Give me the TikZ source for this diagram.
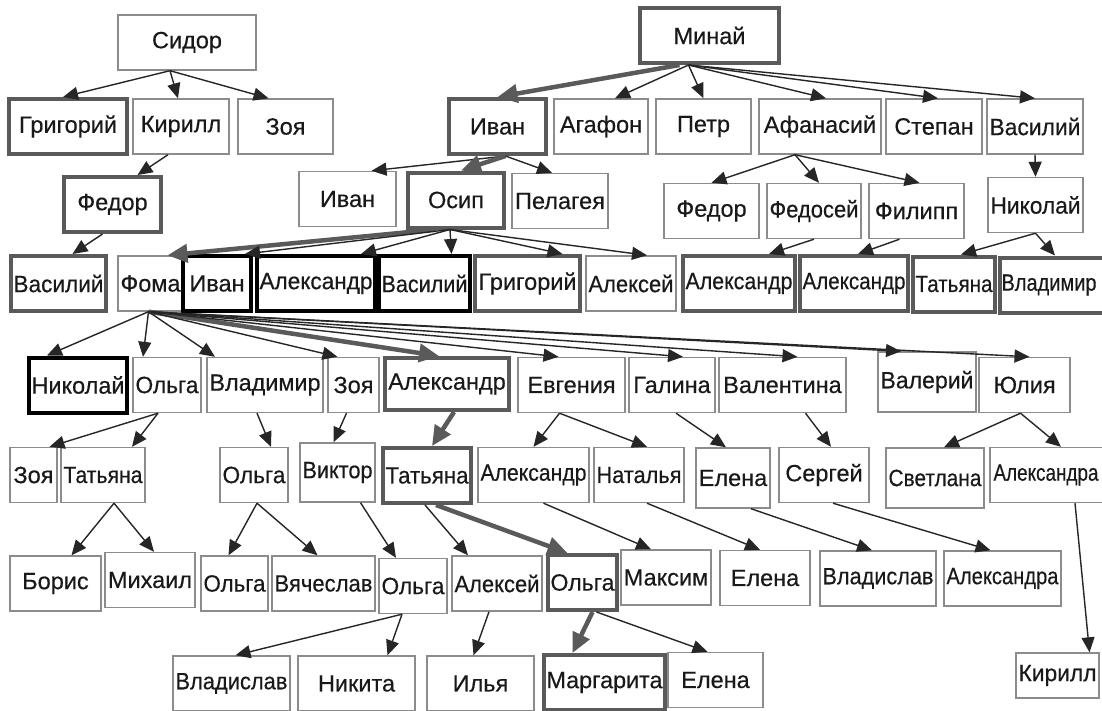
\documentclass[tikz,border=0pt]{standalone}
\usepackage{fontspec}
\setmainfont{Liberation Sans}
\newfontfamily\nmfont[FakeBold=0.4]{Liberation Sans}
\usetikzlibrary{arrows.meta}
\definecolor{boxgray}{HTML}{8C8C8C}
\definecolor{pathgray}{HTML}{5A5A5A}
% squeeze a name into its box, like the original renderer does
\newcommand{\nm}[1]{\resizebox{\ifdim\width>\dimexpr\tw pt-5pt\relax\dimexpr\tw pt-5pt\relax\else\width\fi}{\height}{#1}}

\begin{document}
\begin{tikzpicture}[x=1pt, y=-1pt,
    nd/.style={draw=boxgray, line width=1.4pt, minimum height=55pt, inner sep=0pt,
      font=\nmfont\fontsize{23.5}{28}\selectfont, text=black!90},
    ndg/.style={nd, draw=pathgray, line width=4pt},
    ndk/.style={nd, draw=black, line width=4pt},
    wd/.style={minimum width=#1pt, execute at begin node={\def\tw{#1}}},
    ed/.style={draw=black!85, line width=1.4pt, -{Triangle[length=15pt,width=13pt]}},
    edg/.style={draw=pathgray, line width=4.5pt, -{Triangle[length=20pt,width=18pt]}}]
  \fill[white] (0,0) rectangle (1102,710);
  \useasboundingbox (0,0) rectangle (1102,710);

  % row 1
  \node[nd, wd=138] (sid) at (187,42.5) {\nm{Сидор}};
  \node[ndg, wd=139] (mnj) at (709.5,35.5) {\nm{Минай}};
  % row 2
  \node[ndg, wd=118] (grg) at (68,126.5) {\nm{Григорий}};
  \node[nd, wd=96] (kir) at (181,126.5) {\nm{Кирилл}};
  \node[nd, wd=95] (zoa) at (285.5,126.5) {\nm{Зоя}};
  \node[ndg, wd=97] (iva) at (497.5,126.5) {\nm{Иван}};
  \node[nd, wd=94] (aga) at (601,126.5) {\nm{Агафон}};
  \node[nd, wd=95] (pet) at (703.5,126.5) {\nm{Петр}};
  \node[nd, wd=122] (afa) at (820,126.5) {\nm{Афанасий}};
  \node[nd, wd=96] (ste) at (934,126.5) {\nm{Степан}};
  \node[nd, wd=96] (vas) at (1035,126.5) {\nm{Василий}};
  % row 3
  \node[ndg, wd=97] (fed) at (112.5,204.5) {\nm{Федор}};
  \node[nd, wd=97] (ivb) at (347.5,199) {\nm{Иван}};
  \node[ndg, wd=96] (osi) at (456,200) {\nm{Осип}};
  \node[nd, wd=96] (pel) at (560,201) {\nm{Пелагея}};
  \node[nd, wd=95] (fdr) at (711.5,211) {\nm{Федор}};
  \node[nd, wd=94] (fds) at (814,211) {\nm{Федосей}};
  \node[nd, wd=95] (fil) at (916.5,211) {\nm{Филипп}};
  \node[nd, wd=95] (nik) at (1035.5,205) {\nm{Николай}};
  % row 4
  \node[ndg, wd=95] (vsa) at (58.5,283.5) {\nm{Василий}};
  \node[nd, wd=65] (fom) at (150.5,283.5) {\nm{Фома}};
  \node[ndk, wd=68] (ivc) at (217,283.5) {\nm{Иван}};
  \node[ndk, wd=118] (ala) at (316,283.5) {\nm{Александр}};
  \node[ndk, wd=91] (vsb) at (424.5,283.5) {\nm{Василий}};
  \node[ndg, wd=105] (grb) at (527.5,283.5) {\nm{Григорий}};
  \node[nd, wd=90] (alx) at (631,283.5) {\nm{Алексей}};
  \node[ndg, wd=112] (alb) at (739,283.5) {\nm{Александр}};
  \node[ndg, wd=108] (alc) at (854,283.5) {\nm{Александр}};
  \node[ndg, wd=82] (tat) at (954,284) {\nm{Татьяна}};
  \node[ndg, wd=110] (vla) at (1055,285) {\resizebox{95pt}{\height}{Владимир}\hspace*{12pt}};
  % row 5
  \node[ndk, wd=98] (nkl) at (78,385) {\nm{Николай}};
  \node[nd, wd=68] (olg) at (167,385) {\nm{Ольга}};
  \node[nd, wd=116] (vld) at (265,385) {\nm{Владимир}};
  \node[nd, wd=51] (zob) at (353.5,385) {\nm{Зоя}};
  \node[ndg, wd=124, minimum height=52pt] (ald) at (447,384) {\nm{Александр}};
  \node[nd, wd=107] (evg) at (571.5,385) {\nm{Евгения}};
  \node[nd, wd=86] (gal) at (672,385) {\nm{Галина}};
  \node[nd, wd=127] (val) at (782.5,385) {\nm{Валентина}};
  \node[nd, wd=98, minimum height=60pt] (vlr) at (927,382) {\nm{Валерий}};
  \node[nd, wd=91] (yul) at (1024.5,385) {\nm{Юлия}};
  % row 6
  \node[nd, wd=47] (zoc) at (33.5,475) {\nm{Зоя}};
  \node[nd, wd=84] (tta) at (103,475) {\nm{Татьяна}};
  \node[nd, wd=68] (olb) at (254,475) {\nm{Ольга}};
  \node[nd, wd=75, minimum height=59pt] (vik) at (337.5,472.5) {\nm{Виктор}};
  \node[ndg, wd=88] (ttb) at (427,475.5) {\nm{Татьяна}};
  \node[nd, wd=111] (ale) at (533.5,475) {\nm{Александр}};
  \node[nd, wd=90] (nat) at (639,475) {\nm{Наталья}};
  \node[nd, wd=74, minimum height=60pt] (ela) at (733,478) {\nm{Елена}};
  \node[nd, wd=90] (ser) at (824,475) {\nm{Сергей}};
  \node[nd, wd=98, minimum height=60pt] (sve) at (935,478) {\nm{Светлана}};
  \node[nd, wd=120] (alr) at (1050,475) {\resizebox{105pt}{\height}{Александра}\hspace*{8pt}};
  % row 7
  \node[nd, wd=91] (bor) at (55.5,583.5) {\nm{Борис}};
  \node[nd, wd=90] (mih) at (150,580) {\nm{Михаил}};
  \node[nd, wd=67] (olc) at (234.5,583.5) {\nm{Ольга}};
  \node[nd, wd=103] (vya) at (323.5,583.5) {\nm{Вячеслав}};
  \node[nd, wd=68] (old) at (413,586) {\nm{Ольга}};
  \node[nd, wd=90] (alf) at (497,583.5) {\nm{Алексей}};
  \node[ndg, wd=69] (ole) at (582.5,582.5) {\nm{Ольга}};
  \node[nd, wd=90] (mak) at (666,577.5) {\nm{Максим}};
  \node[nd, wd=90] (elb) at (765,578) {\nm{Елена}};
  \node[nd, wd=116] (vls) at (878,578.5) {\nm{Владислав}};
  \node[nd, wd=117] (als) at (1002.5,578.5) {\nm{Александра}};
  % row 8
  \node[nd, wd=117] (vlt) at (231.5,683.5) {\nm{Владислав}};
  \node[nd, wd=117] (nki) at (356.5,683.5) {\nm{Никита}};
  \node[nd, wd=107] (ily) at (480.5,683.5) {\nm{Илья}};
  \node[ndg, wd=121] (mar) at (604.5,682.5) {\nm{Маргарита}};
  \node[nd, wd=95] (elc) at (715.5,680) {\nm{Елена}};
  \node[nd, wd=83, minimum height=45pt] (krl) at (1057.5,675.5) {\nm{Кирилл}};

  % Sidor
  \foreach \c/\d in {grg/-5, kir/-3, zoa/-17}
    \draw[ed] ([xshift=-17pt]sid.south) -- ([xshift=\d pt]\c.north);
  \draw[ed] ([xshift=-13pt]kir.south) -- ([xshift=25pt]fed.north);
  \draw[ed] ([xshift=-10pt]fed.south) -- ([xshift=14pt]vsa.north);
  % Minaj
  \draw[edg] ([xshift=-30pt]mnj.south) -- (iva.north);
  \foreach \c/\d in {aga/14, pet/0, afa/6, ste/4, vas/0}
    \draw[ed] ([xshift=-21pt]mnj.south) -- ([xshift=\d pt]\c.north);
  \draw[ed] ([xshift=8pt]iva.south) -- ([xshift=24pt]ivb.north);
  \draw[edg] ([xshift=8pt]iva.south) -- ([xshift=5pt]osi.north);
  \draw[ed] ([xshift=8pt]iva.south) -- ([xshift=-8pt]pel.north);
  % Osip
  \draw[edg] ([xshift=-20pt]osi.south) -- ([xshift=17pt]fom.north);
  \foreach \c/\d in {ivc/28, ala/45, vsb/27, grb/35, alx/16}
    \draw[ed] ([xshift=-6pt]osi.south) -- ([xshift=\d pt]\c.north);
  % Afanasij, Vasilij
  \foreach \c/\d in {fdr/0, fds/5, fil/3}
    \draw[ed] ([xshift=-25pt]afa.south) -- ([xshift=\d pt]\c.north);
  \draw[ed] (fds.south) -- ([xshift=30pt]alb.north);
  \draw[ed] ([xshift=-17pt]fil.south) -- ([xshift=4pt]alc.north);
  \draw[ed] (vas.south) -- (nik.north);
  \draw[ed] (nik.south) -- ([xshift=7pt]tat.north);
  \draw[ed] (nik.south) -- (vla.north);
  % Foma
  \draw[edg] ([xshift=-2pt]fom.south) -- ([xshift=-8pt]ald.north);
  \foreach \c/\d in {nkl/-31, olg/-24, vld/-50, zob/-16, evg/-13, gal/11, val/15, vlr/-26, yul/5}
    \draw[ed] ([xshift=-2pt]fom.south) -- ([xshift=\d pt]\c.north);
  % row 5 -> row 6
  \draw[ed] ([xshift=-9pt]olg.south) -- ([xshift=16pt]zoc.north);
  \draw[ed] ([xshift=-9pt]olg.south) -- ([xshift=29pt]tta.north);
  \draw[ed] ([xshift=-8pt]vld.south) -- ([xshift=17pt]olb.north);
  \draw[ed] ([xshift=-7pt]zob.south) -- ([xshift=-4pt]vik.north);
  \draw[edg] ([xshift=7pt]ald.south) -- ([xshift=5pt]ttb.north);
  \draw[ed] ([xshift=-12pt]evg.south) -- (ale.north);
  \draw[ed] ([xshift=-12pt]evg.south) -- ([xshift=8pt]nat.north);
  \draw[ed] ([xshift=4pt]gal.south) -- ([xshift=-7pt]ela.north);
  \draw[ed] ([xshift=23pt]val.south) -- ([xshift=7pt]ser.north);
  \draw[ed] ([xshift=-4pt]yul.south) -- ([xshift=9pt]sve.north);
  \draw[ed] ([xshift=-4pt]yul.south) -- ([xshift=11pt]alr.north);
  % row 6 -> row 7
  \draw[ed] ([xshift=11pt]tta.south) -- ([xshift=16pt]bor.north);
  \draw[ed] ([xshift=11pt]tta.south) -- ([xshift=4pt]mih.north);
  \draw[ed] ([xshift=3pt]olb.south) -- ([xshift=-6pt]olc.north);
  \draw[ed] ([xshift=3pt]olb.south) -- ([xshift=-6pt]vya.north);
  \draw[ed] ([xshift=23pt]vik.south) -- ([xshift=-17pt]old.north);
  \draw[ed] ([xshift=-2pt]ttb.south) -- ([xshift=-29pt]alf.north);
  \draw[edg] ([xshift=9pt]ttb.south) -- ([xshift=-15pt]ole.north);
  \draw[ed] ([xshift=10pt]ale.south) -- ([xshift=-15pt]mak.north);
  \draw[ed] ([xshift=8pt]nat.south) -- ([xshift=-5pt]elb.north);
  \draw[ed] ([xshift=18pt]ela.south) -- ([xshift=-6pt]vls.north);
  \draw[ed] ([xshift=9pt]ser.south) -- ([xshift=-12pt]als.north);
  \draw[ed] ([xshift=25pt]alr.south) -- ([xshift=32pt]krl.north);
  % row 7 -> row 8
  \draw[ed] ([xshift=-11pt]old.south) -- ([xshift=4pt]vlt.north);
  \draw[ed] ([xshift=-11pt]old.south) -- ([xshift=31pt]nki.north);
  \draw[ed] ([xshift=-8pt]alf.south) -- ([xshift=-7pt]ily.north);
  \draw[edg] ([xshift=10pt]ole.south) -- ([xshift=-32pt]mar.north);
  \draw[ed] ([xshift=14pt]ole.south) -- ([xshift=-8pt]elc.north);
\end{tikzpicture}
\end{document}
